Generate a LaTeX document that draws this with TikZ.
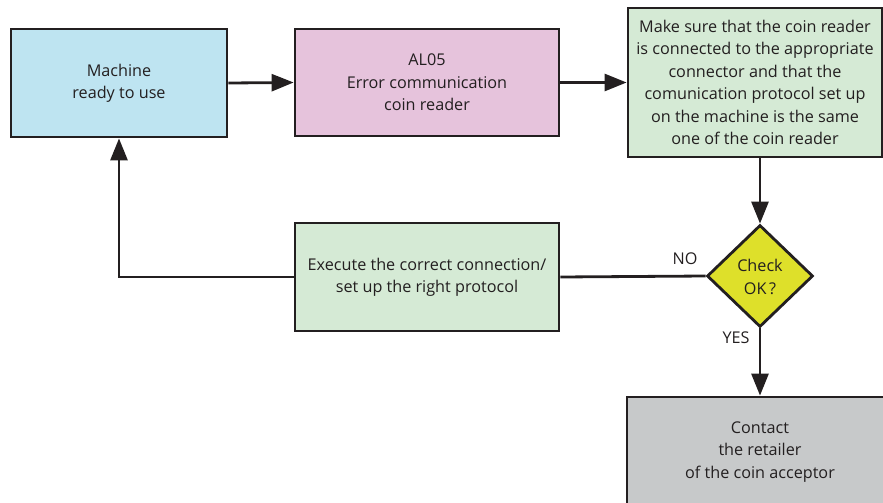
\documentclass[tikz,border=0pt]{standalone}
\usepackage{fontspec}
\setmainfont{Open Sans}
\usetikzlibrary{arrows.meta,shapes.geometric}
\definecolor{lineC}{HTML}{231F20}
\definecolor{blueF}{HTML}{BEE4F1}
\definecolor{pinkF}{HTML}{E6C3DC}
\definecolor{greenF}{HTML}{D5EAD5}
\definecolor{yellowF}{HTML}{DEE02A}
\definecolor{grayF}{HTML}{C7C9CA}
\tikzset{
  box/.style={draw=lineC, line width=2.8pt, rectangle, align=center, inner sep=0pt,
    font=\fontsize{16.2}{22.4}\selectfont, text=lineC},
  dia/.style={draw=lineC, line width=2.8pt, diamond, inner sep=0pt},
  conn/.style={draw=lineC, line width=2.8pt},
  arr/.style={conn, -{Triangle[length=22pt,width=17pt]}},
  lbl/.style={font=\fontsize{16.2}{20}\selectfont, text=lineC, inner sep=0pt}
}
\begin{document}
\begin{tikzpicture}[x=1pt,y=-1pt]
\useasboundingbox (0,0) rectangle (883,503);
\clip (0,0) rectangle (883,503);
\node[box, fill=blueF, minimum width=216pt, minimum height=108pt] (mach) at (119,83) {Machine\\ready to use};
\node[box, fill=pinkF, minimum width=264pt, minimum height=107pt] (al) at (427,82.5) {AL05\\Error communication\\coin reader};
\node[box, fill=greenF, minimum width=254pt, minimum height=149pt] (make) at (755,82.5) {Make sure that the coin reader\\is connected to the appropriate\\connector and that the\\comunication protocol set up\\on the machine is the same\\one of the coin reader};
\node[dia, fill=yellowF, minimum width=106pt, minimum height=102pt] (chk) at (760,276) {};
\node[lbl, align=center, font=\fontsize{16.2}{22.4}\selectfont] (chkt) at (760,277) {Check\\OK\,?};
\node[box, fill=greenF, minimum width=264pt, minimum height=108pt] (exe) at (427,277) {Execute the correct connection/\\set up the right protocol};
\node[box, fill=grayF, minimum width=266pt, minimum height=110pt] (cont) at (760,452) {Contact\\the retailer\\of the coin acceptor};
\coordinate (bend) at (119,277);
\draw[arr] (mach.east) -- (al.west);
\draw[arr] (al.east) -- (al.east -| make.west);
\draw[arr] (make.south -| chk.north) -- (chk.north);
\draw[conn] (chk.west) -- (exe.east);
\draw[arr] (exe.west) -- (bend) -- (mach.south);
\draw[arr] (chk.south) -- (cont.north);
\node[lbl] (no) at (685,259) {NO};
\node[lbl] (yes) at (736,338) {YES};
\end{tikzpicture}
\end{document}
